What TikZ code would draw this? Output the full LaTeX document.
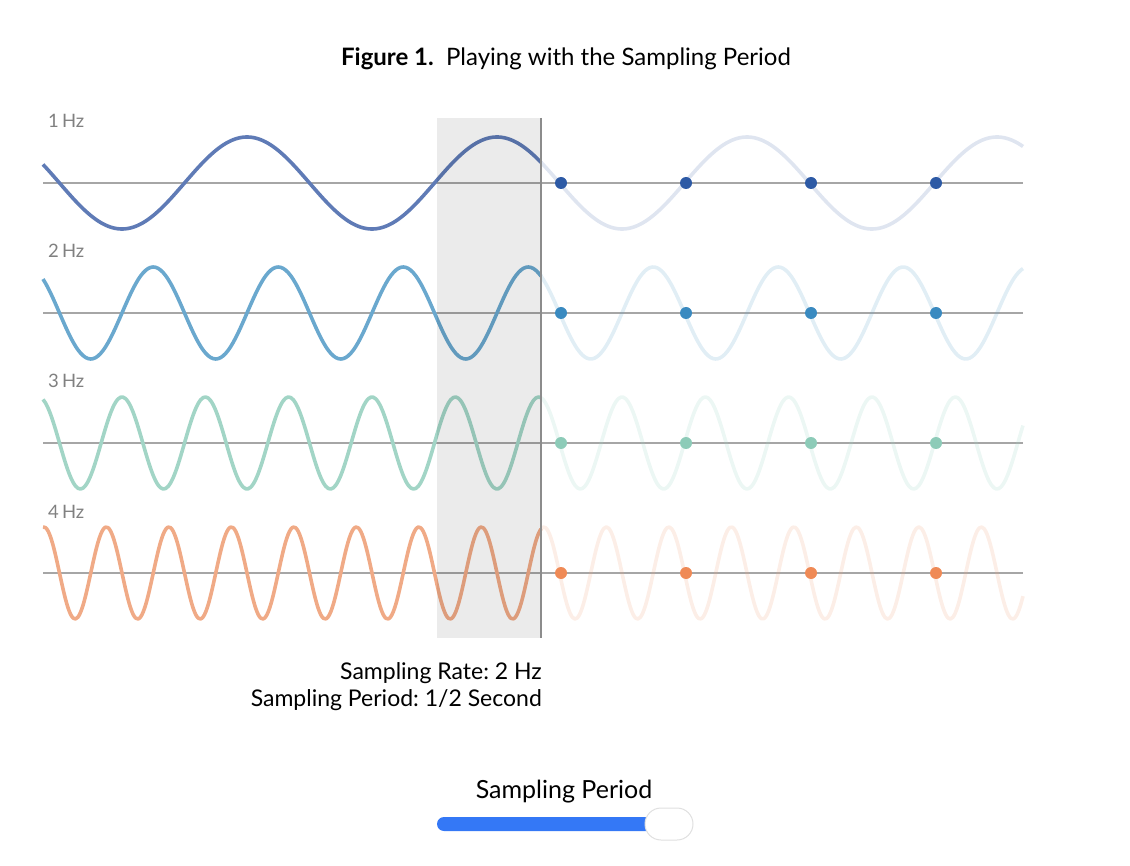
\documentclass[tikz,border=0pt]{standalone}
\usepackage{fontspec}
\setmainfont{Lato}
\frenchspacing
\usetikzlibrary{positioning}
\definecolor{waveone}{HTML}{5F7BB6}
\definecolor{wavetwo}{HTML}{6AA8CE}
\definecolor{wavethree}{HTML}{A2D5C6}
\definecolor{wavefour}{HTML}{F0AA86}
\definecolor{dotone}{HTML}{2D5AA5}
\definecolor{dottwo}{HTML}{3A8AC0}
\definecolor{dotthree}{HTML}{8DCBB8}
\definecolor{dotfour}{HTML}{EF8A56}
\definecolor{sliderblue}{HTML}{3478F6}
\tikzset{
  axisline/.style={draw=black!35, line width=1.5pt},
  wave/.style={line width=3.6pt, line join=round},
  hzlabel/.style={text=black!50, font=\fontsize{18.5}{20}\selectfont, inner sep=0pt},
  infotext/.style={font=\fontsize{23}{26}\selectfont, inner sep=0pt},
}
\begin{document}
\begin{tikzpicture}[x=1pt,y=-1pt]
\useasboundingbox (0,0) rectangle (1130,866);
\node[infotext, font=\fontsize{24}{28}\selectfont, anchor=base] (title) at (566,66) {\textbf{Figure 1.}\ \ Playing with the Sampling Period};

\foreach \f/\yy/\wc/\dc in {1/183/waveone/dotone, 2/313/wavetwo/dottwo, 3/443/wavethree/dotthree, 4/573/wavefour/dotfour}{
  \draw[axisline] (43,\yy) -- (1023,\yy);
  \node[hzlabel, anchor=base west] (lab\f) at (48,\yy-55) {\f\,Hz};
  \draw[wave, \wc] plot[domain=43:541, samples=200, smooth] (\x, {\yy+46*sin(1.44*\f*(\x-59.5))});
  \draw[wave, \wc, opacity=0.2] plot[domain=541:1023, samples=200, smooth] (\x, {\yy+46*sin(1.44*\f*(\x-59.5))});
  \foreach \k in {0,...,3}
    \fill[\dc] (561+125*\k,\yy) circle (6pt);
}

% sampling window
\fill[black, opacity=0.08] (437,118) rectangle (541,638);
\draw[black!45, line width=2pt] (541,118) -- (541,638);

\node[infotext, anchor=base east] (rate) at (542,679) {Sampling Rate: 2 Hz};
\node[infotext, anchor=base east] (period) at (542,706) {Sampling Period: 1/2 Second};

% slider
\node[infotext, font=\fontsize{25}{28}\selectfont, anchor=base] (slabel) at (564,798) {Sampling Period};
\fill[sliderblue, rounded corners=7pt] (437,817) rectangle (670,831);
\draw[black!12, fill=white, line width=1pt, rounded corners=16pt] (645,808) rectangle (693,840);
\end{tikzpicture}
\end{document}
